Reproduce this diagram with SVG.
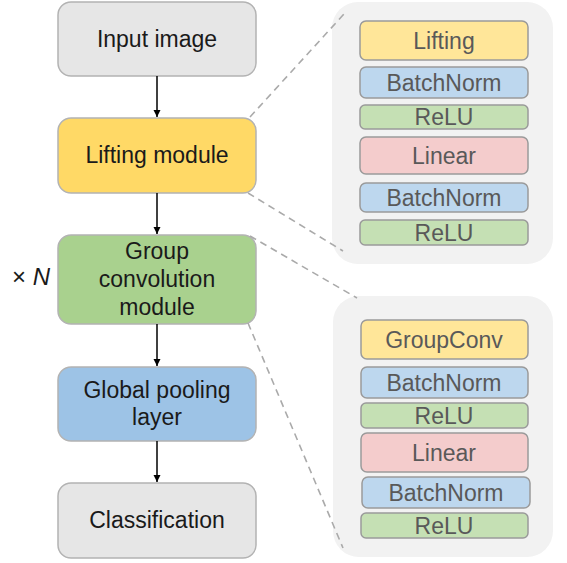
<svg xmlns="http://www.w3.org/2000/svg" width="567" height="563" viewBox="0 0 567 563">
  <defs>
    <marker id="arrow" markerWidth="8" markerHeight="8" refX="7" refY="4" orient="auto" markerUnits="userSpaceOnUse">
      <path d="M0,0.5 L7,4 L0,7.5 Z" fill="#000"/>
    </marker>
    <style>
      .node { stroke: #b3b3b3; stroke-width: 1.5; }
      .layer { stroke: #9a9a9a; stroke-width: 1.5; }
      .panel { fill: #f2f2f2; }
      .lbl { font-family: "Liberation Sans", Arial, sans-serif; font-size: 23px; fill: #1a1a1a; text-anchor: middle; }
      .sub { font-family: "Liberation Sans", Arial, sans-serif; font-size: 23px; fill: #595959; text-anchor: middle; }
      .gray { fill: #e6e6e6; }
      .yellow { fill: #ffd966; }
      .green { fill: #a9d18e; }
      .blue { fill: #9dc3e6; }
      .ly { fill: #ffe699; }
      .lb { fill: #bdd7ee; }
      .lg { fill: #c5e0b4; }
      .lr { fill: #f4cccc; }
      .arrow { stroke: #000; stroke-width: 1.5; fill: none; marker-end: url(#arrow); }
      .zoom { stroke: #aaaaaa; stroke-width: 1.6; stroke-dasharray: 7 5; fill: none; }
    </style>
  </defs>

  <!-- expanded detail panels -->
  <g id="lifting-detail">
    <rect class="panel" x="332" y="2" width="221" height="262" rx="26"/>
    <rect class="layer ly" x="360" y="21" width="168" height="39" rx="6"/>
    <text class="sub" x="444" y="49">Lifting</text>
    <rect class="layer lb" x="360" y="67" width="168" height="31" rx="6"/>
    <text class="sub" x="444" y="91">BatchNorm</text>
    <rect class="layer lg" x="360" y="105" width="168" height="24" rx="5"/>
    <text class="sub" x="444" y="125">ReLU</text>
    <rect class="layer lr" x="360" y="137" width="168" height="37" rx="6"/>
    <text class="sub" x="444" y="164">Linear</text>
    <rect class="layer lb" x="360" y="183" width="168" height="29" rx="6"/>
    <text class="sub" x="444" y="206">BatchNorm</text>
    <rect class="layer lg" x="360" y="220" width="168" height="25" rx="5"/>
    <text class="sub" x="444" y="241">ReLU</text>
  </g>

  <g id="groupconv-detail">
    <rect class="panel" x="333" y="296" width="220" height="261" rx="26"/>
    <rect class="layer ly" x="361" y="320" width="167" height="39" rx="6"/>
    <text class="sub" x="444" y="348">GroupConv</text>
    <rect class="layer lb" x="361" y="367" width="167" height="31" rx="6"/>
    <text class="sub" x="444" y="391">BatchNorm</text>
    <rect class="layer lg" x="361" y="403" width="167" height="25" rx="5"/>
    <text class="sub" x="444" y="424">ReLU</text>
    <rect class="layer lr" x="361" y="433" width="167" height="39" rx="6"/>
    <text class="sub" x="444" y="461">Linear</text>
    <rect class="layer lb" x="362" y="477" width="168" height="31" rx="6"/>
    <text class="sub" x="446" y="501">BatchNorm</text>
    <rect class="layer lg" x="361" y="513" width="167" height="25" rx="5"/>
    <text class="sub" x="444" y="534">ReLU</text>
  </g>

  <!-- main pipeline -->
  <g id="input-image">
    <rect class="node gray" x="58" y="2" width="198" height="74" rx="13"/>
    <text class="lbl" x="157" y="47">Input image</text>
  </g>
  <g id="lifting-module">
    <rect class="node yellow" x="58" y="118" width="198" height="75" rx="13"/>
    <text class="lbl" x="157" y="163">Lifting module</text>
  </g>
  <g id="group-conv-module">
    <rect class="node green" x="58" y="235" width="198" height="89" rx="13"/>
    <text class="lbl" x="157" y="259">Group</text>
    <text class="lbl" x="157" y="287">convolution</text>
    <text class="lbl" x="157" y="315">module</text>
  </g>
  <g id="repeat-label">
    <text x="12" y="285" style="font-family:'Liberation Sans',Arial,sans-serif;font-size:24px;fill:#1a1a1a">× <tspan font-style="italic">N</tspan></text>
  </g>
  <g id="global-pooling">
    <rect class="node blue" x="58" y="367" width="198" height="74" rx="13"/>
    <text class="lbl" x="157" y="398">Global pooling</text>
    <text class="lbl" x="157" y="425">layer</text>
  </g>
  <g id="classification">
    <rect class="node gray" x="58" y="483" width="198" height="75" rx="13"/>
    <text class="lbl" x="157" y="528">Classification</text>
  </g>

  <!-- connectors -->
  <g id="connectors">
    <line class="arrow" x1="157" y1="76" x2="157" y2="117"/>
    <line class="arrow" x1="157" y1="193" x2="157" y2="234"/>
    <line class="arrow" x1="157" y1="324" x2="157" y2="366"/>
    <line class="arrow" x1="157" y1="441" x2="157" y2="482"/>
    <line class="zoom" x1="250" y1="117" x2="344" y2="14"/>
    <line class="zoom" x1="248" y1="193" x2="343" y2="251"/>
    <line class="zoom" x1="250" y1="236" x2="357" y2="298"/>
    <line class="zoom" x1="248" y1="323" x2="343" y2="548"/>
  </g>
</svg>
